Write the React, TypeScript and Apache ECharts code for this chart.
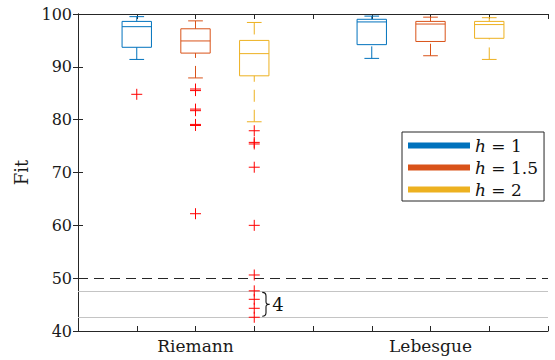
import React, { useEffect, useRef } from "react";
import * as echarts from "echarts";

// ---- data ----
const groups = ["Riemann", "Lebesgue"];
const stepSizes = ["1", "1.5", "2"]; // h values
const colors = ["#0072BD", "#D95319", "#EDB120"];
// [lower whisker, q1, median, q3, upper whisker]
const riemannBoxes = [
  [91.4, 93.7, 97.6, 98.6, 99.5],
  [87.9, 92.6, 94.9, 97.2, 98.7],
  [79.6, 88.3, 92.5, 95.0, 98.4],
];
const lebesgueBoxes = [
  [91.6, 94.2, 98.5, 99.0, 99.6],
  [92.1, 94.8, 98.1, 98.6, 99.4],
  [91.4, 95.4, 98.0, 98.6, 99.3],
];
const riemannOutliers = [
  [84.8],
  [85.8, 85.5, 82.0, 81.7, 79.1, 78.9, 62.2],
  [77.9, 75.7, 75.4, 71.0, 60.0, 50.6, 47.6, 46.0, 44.3, 42.6],
];
const lebesgueOutliers: number[][] = [[], [], []];
const yMin = 40;
const yMax = 100;
const yStep = 10;
const threshold = 50;
const bandLimits = [47.5, 42.6];
const hiddenCount = 4;

const FONT = "'DejaVu Serif', serif";
const AXIS = "#262626";

const boxesByGroup = [riemannBoxes, lebesgueBoxes];
const outliersByGroup = [riemannOutliers, lebesgueOutliers];
const posOf = (g: number, s: number) => 1 + g * (stepSizes.length + 1) + s;
const xMax = groups.length * (stepSizes.length + 1);
const groupCenter = (g: number) => posOf(g, (stepSizes.length - 1) / 2);

export default function App() {
  const ref = useRef<HTMLDivElement>(null);
  useEffect(() => {
    if (!ref.current) return;
    const chart = echarts.init(ref.current, null, { renderer: "svg" });

    const boxSeries = stepSizes.map((h, s) => ({
      type: "custom",
      name: h,
      xAxisIndex: 0,
      yAxisIndex: 0,
      itemStyle: { color: colors[s] },
      encode: { x: 0, y: [1, 2, 3, 4, 5] },
      data: groups.map((_, g) => [posOf(g, s), ...boxesByGroup[g][s]]),
      renderItem: (params: any, api: any) => {
        const x = api.value(0);
        const lo = api.coord([x, api.value(1)]);
        const q1 = api.coord([x, api.value(2)]);
        const med = api.coord([x, api.value(3)]);
        const q3 = api.coord([x, api.value(4)]);
        const hi = api.coord([x, api.value(5)]);
        const w = api.size([0.5, 0])[0];
        const cap = w / 2;
        const px = lo[0];
        const c = colors[s];
        const solid = { stroke: c, lineWidth: 1, fill: "none" };
        const dashed = { stroke: c, lineWidth: 1, fill: "none", lineDash: [12, 8] };
        return {
          type: "group",
          children: [
            { type: "line", shape: { x1: px, y1: lo[1], x2: px, y2: q1[1] }, style: dashed },
            { type: "line", shape: { x1: px, y1: hi[1], x2: px, y2: q3[1] }, style: dashed },
            { type: "line", shape: { x1: px - cap / 2, y1: lo[1], x2: px + cap / 2, y2: lo[1] }, style: solid },
            { type: "line", shape: { x1: px - cap / 2, y1: hi[1], x2: px + cap / 2, y2: hi[1] }, style: solid },
            { type: "rect", shape: { x: px - w / 2, y: q3[1], width: w, height: q1[1] - q3[1] }, style: solid },
            { type: "line", shape: { x1: px - w / 2, y1: med[1], x2: px + w / 2, y2: med[1] }, style: solid },
          ],
        };
      },
    }));

    const outlierData: number[][] = [];
    outliersByGroup.forEach((grp, g) =>
      grp.forEach((vals, s) => vals.forEach((v) => outlierData.push([posOf(g, s), v])))
    );

    const outlierSeries = {
      type: "custom",
      name: "outliers",
      xAxisIndex: 0,
      yAxisIndex: 0,
      encode: { x: 0, y: 1 },
      data: outlierData,
      z: 3,
      renderItem: (params: any, api: any) => {
        const p = api.coord([api.value(0), api.value(1)]);
        const r = 5.5;
        const st = { stroke: "#ff0000", lineWidth: 1, fill: "none" };
        return {
          type: "group",
          children: [
            { type: "line", shape: { x1: p[0] - r, y1: p[1], x2: p[0] + r, y2: p[1] }, style: st },
            { type: "line", shape: { x1: p[0], y1: p[1] - r, x2: p[0], y2: p[1] + r }, style: st },
          ],
        };
      },
      markLine: {
        silent: true,
        symbol: "none",
        label: { show: false },
        z: 1,
        data: [
          { yAxis: threshold, lineStyle: { color: AXIS, width: 1, type: [10, 6] } },
          { yAxis: bandLimits[0], lineStyle: { color: "#c4c4c4", width: 1, type: "solid" } },
          { yAxis: bandLimits[1], lineStyle: { color: "#c4c4c4", width: 1, type: "solid" } },
        ],
      },
    };

    const annotationSeries = {
      type: "custom",
      name: "annotation",
      xAxisIndex: 0,
      yAxisIndex: 0,
      encode: { x: 0, y: [1, 2] },
      data: [[posOf(0, 2), bandLimits[0], bandLimits[1], hiddenCount]],
      z: 4,
      renderItem: (params: any, api: any) => {
        const top = api.coord([api.value(0), api.value(1)]);
        const bot = api.coord([api.value(0), api.value(2)]);
        const x0 = top[0] + 8;
        const h = bot[1] - top[1] - 2;
        return {
          type: "group",
          children: [
            {
              type: "path",
              shape: {
                pathData:
                  "M0,0 C4,0 5,2 5,6 L5,16 C5,19 6,20 10,20 C6,20 5,21 5,24 L5,34 C5,38 4,40 0,40",
                layout: "cover",
                x: x0,
                y: top[1] + 1,
                width: 7.5,
                height: h,
              },
              style: { stroke: "#111", lineWidth: 1.1, fill: "none" },
            },
            {
              type: "text",
              x: x0 + 10,
              y: (top[1] + bot[1]) / 2,
              style: {
                text: String(api.value(3)),
                fontFamily: FONT,
                fontSize: 18,
                fill: "#111",
                verticalAlign: "middle",
                align: "left",
              },
            },
          ],
        };
      },
    };

    const labelFor = (v: number) => {
      for (let g = 0; g < groups.length; g++) if (Math.abs(groupCenter(g) - v) < 1e-6) return groups[g];
      return "";
    };

    const xCommon = {
      type: "value",
      min: 0,
      max: xMax,
      interval: 1,
      splitLine: { show: false },
      axisLine: { show: true, lineStyle: { color: AXIS, width: 1 } },
      axisTick: { show: true, inside: true, length: 5, lineStyle: { color: AXIS } },
    };
    const yCommon = {
      type: "value",
      min: yMin,
      max: yMax,
      interval: yStep,
      splitLine: { show: false },
      axisLine: { show: true, lineStyle: { color: AXIS, width: 1 } },
      axisTick: { show: true, inside: true, length: 5, lineStyle: { color: AXIS } },
    };

    chart.setOption({
      animation: false,
      grid: { left: 78, right: 7, top: 14, bottom: 29, containLabel: false },
      xAxis: [
        {
          ...xCommon,
          position: "bottom",
          axisLabel: {
            formatter: (v: number) => labelFor(v),
            fontFamily: FONT,
            fontSize: 17,
            color: "#1a1a1a",
            margin: 6,
            showMinLabel: true,
            showMaxLabel: true,
          },
        },
        { ...xCommon, position: "top", axisLabel: { show: false } },
      ],
      yAxis: [
        {
          ...yCommon,
          position: "left",
          name: "Fit",
          nameLocation: "middle",
          nameRotate: 90,
          nameGap: 45,
          nameTextStyle: { fontFamily: FONT, fontSize: 18, color: "#1a1a1a" },
          axisLabel: { fontFamily: FONT, fontSize: 16, color: "#1a1a1a", margin: 6 },
        },
        { ...yCommon, position: "right", axisLabel: { show: false } },
      ],
      legend: {
        left: 402,
        top: 132,
        orient: "vertical",
        selectedMode: false,
        itemWidth: 62,
        itemHeight: 6,
        itemGap: 5,
        padding: [5, 6, 3, 6],
        backgroundColor: "#ffffff",
        borderColor: AXIS,
        borderWidth: 1,
        borderRadius: 0,
        formatter: (n: string) => `{it|h} = ${n}`,
        textStyle: {
          fontFamily: FONT,
          fontSize: 17,
          color: "#111",
          rich: { it: { fontFamily: FONT, fontSize: 17, fontStyle: "italic", color: "#111" } },
        },
        data: stepSizes.map((n, i) => ({ name: n, icon: "rect", itemStyle: { color: colors[i] } })),
      },
      series: [...boxSeries, outlierSeries, annotationSeries],
    });
    return () => chart.dispose();
  }, []);
  return (
    <div
      ref={ref}
      style={{ position: "fixed", left: 0, top: 0, width: 555, height: 360, background: "#fff" }}
    />
  );
}
